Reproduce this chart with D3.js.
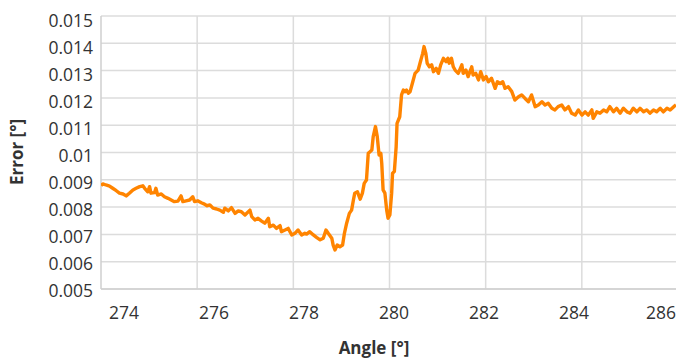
<!DOCTYPE html>
<html><head><meta charset="utf-8">
<script src="https://cdn.jsdelivr.net/npm/d3@7"></script>
<style>
html,body{margin:0;padding:0;background:#fff;}
svg{display:block;font-family:"Open Sans",sans-serif;}
</style></head>
<body>
<svg id="c" width="676" height="362"></svg>
<script>
const angle = [273.50,273.54,273.61,273.69,273.76,273.84,273.91,273.99,274.06,274.13,274.21,274.28,274.36,274.43,274.47,274.54,274.58,274.61,274.69,274.72,274.76,274.84,274.91,274.99,275.06,275.13,275.21,275.28,275.32,275.39,275.47,275.54,275.58,275.65,275.73,275.80,275.85,275.92,275.99,276.07,276.14,276.22,276.25,276.33,276.40,276.48,276.55,276.62,276.70,276.81,276.85,276.92,276.99,277.07,277.14,277.22,277.25,277.33,277.40,277.48,277.51,277.59,277.66,277.74,277.81,277.88,277.96,278.03,278.07,278.14,278.22,278.29,278.37,278.44,278.50,278.55,278.63,278.66,278.70,278.75,278.81,278.87,278.91,278.96,279.02,279.07,279.11,279.14,279.20,279.26,279.31,279.35,279.40,279.44,279.48,279.52,279.55,279.60,279.64,279.68,279.72,279.74,279.77,279.81,279.85,279.88,279.92,279.96,279.98,280.02,280.06,280.08,280.14,280.18,280.22,280.26,280.29,280.33,280.37,280.43,280.48,280.55,280.59,280.65,280.68,280.72,280.75,280.80,280.85,280.89,280.95,281.00,281.05,281.11,281.17,281.21,281.24,281.29,281.33,281.37,281.44,281.52,281.55,281.61,281.66,281.74,281.77,281.83,281.89,281.94,282.00,282.06,282.11,282.18,282.26,282.31,282.37,282.43,282.48,282.55,282.63,282.70,282.78,282.85,282.92,283.00,283.07,283.15,283.22,283.30,283.37,283.44,283.52,283.59,283.66,283.74,283.81,283.89,283.96,284.04,284.11,284.19,284.26,284.33,284.41,284.44,284.52,284.59,284.67,284.74,284.81,284.89,284.96,285.04,285.11,285.19,285.26,285.33,285.41,285.48,285.56,285.63,285.70,285.78,285.85,285.93,286.00,286.08,286.15,286.23,286.28];
const error = [0.00879,0.00885,0.00881,0.00877,0.00869,0.00860,0.00851,0.00848,0.00841,0.00851,0.00863,0.00869,0.00875,0.00878,0.00869,0.00856,0.00875,0.00851,0.00853,0.00869,0.00844,0.00848,0.00838,0.00832,0.00826,0.00820,0.00822,0.00841,0.00820,0.00823,0.00826,0.00838,0.00820,0.00823,0.00816,0.00811,0.00805,0.00808,0.00796,0.00793,0.00789,0.00781,0.00796,0.00786,0.00798,0.00777,0.00786,0.00783,0.00771,0.00789,0.00765,0.00753,0.00759,0.00749,0.00741,0.00759,0.00728,0.00734,0.00722,0.00732,0.00710,0.00716,0.00722,0.00698,0.00704,0.00716,0.00698,0.00704,0.00701,0.00710,0.00698,0.00689,0.00680,0.00686,0.00716,0.00704,0.00686,0.00661,0.00643,0.00661,0.00655,0.00661,0.00704,0.00741,0.00777,0.00789,0.00826,0.00851,0.00856,0.00829,0.00851,0.00887,0.00899,0.00997,0.01003,0.01009,0.01058,0.01095,0.01058,0.00991,0.00997,0.00960,0.00863,0.00851,0.00789,0.00759,0.00771,0.00851,0.00924,0.00930,0.01021,0.01107,0.01131,0.01211,0.01229,0.01223,0.01229,0.01217,0.01223,0.01259,0.01290,0.01302,0.01327,0.01363,0.01388,0.01363,0.01327,0.01314,0.01321,0.01296,0.01308,0.01290,0.01321,0.01345,0.01333,0.01345,0.01327,0.01345,0.01314,0.01302,0.01290,0.01321,0.01290,0.01302,0.01278,0.01314,0.01284,0.01290,0.01266,0.01296,0.01266,0.01278,0.01259,0.01272,0.01235,0.01259,0.01253,0.01259,0.01235,0.01241,0.01223,0.01192,0.01204,0.01211,0.01199,0.01186,0.01211,0.01168,0.01174,0.01186,0.01174,0.01180,0.01162,0.01156,0.01168,0.01174,0.01156,0.01168,0.01144,0.01137,0.01156,0.01137,0.01149,0.01137,0.01156,0.01125,0.01149,0.01144,0.01156,0.01149,0.01168,0.01149,0.01162,0.01144,0.01162,0.01149,0.01144,0.01162,0.01149,0.01162,0.01149,0.01156,0.01144,0.01156,0.01149,0.01162,0.01149,0.01162,0.01156,0.01168,0.01174];
const xTicks = [274,276,278,280,282,284,286];
const yTicks = [0.005,0.006,0.007,0.008,0.009,0.010,0.011,0.012,0.013,0.014,0.015];
const xTitle = "Angle [°]";
const yTitle = "Error [°]";

const svg = d3.select("#c");
const L = 101, R = 676, T = 16, B = 289;
const x = d3.scaleLinear().domain([273.5, 286.28]).range([L, R]);
const y = d3.scaleLinear().domain([0.005, 0.015]).range([B, T]);
const yLab = d3.scaleLinear().domain([0.005, 0.015]).range([B + 1.5, T + 5]);
const gx = d3.scaleLinear().domain([0, 6]).range([L, 678]);
const gridColor = "#dcdcdc";

svg.append("g").selectAll("line").data(yTicks).join("line")
  .attr("x1", L).attr("x2", R).attr("y1", d => y(d)).attr("y2", d => y(d))
  .attr("stroke", gridColor).attr("stroke-width", 1.5);
svg.append("g").selectAll("line").data(d3.range(1, 7)).join("line")
  .attr("x1", d => gx(d)).attr("x2", d => gx(d)).attr("y1", T).attr("y2", B)
  .attr("stroke", gridColor).attr("stroke-width", 1.5);
svg.append("line").attr("x1", L).attr("x2", L).attr("y1", T).attr("y2", B)
  .attr("stroke", "#cfcfcf").attr("stroke-width", 1.5);
svg.append("line").attr("x1", L).attr("x2", R).attr("y1", B).attr("y2", B)
  .attr("stroke", "#cfcfcf").attr("stroke-width", 1.5);

const yAxis = svg.append("g").attr("transform", `translate(${L},0)`)
  .call(d3.axisLeft(yLab).tickValues(yTicks).tickSize(0).tickPadding(8)
    .tickFormat(d => String(+d.toFixed(3))));
yAxis.select(".domain").remove();
yAxis.selectAll("text").attr("font-size", 17.5).attr("fill", "#333")
  .attr("font-family", "Open Sans");

const xAxis = svg.append("g").attr("transform", `translate(0,${B})`)
  .call(d3.axisBottom(x).tickValues(xTicks).tickSize(0).tickPadding(18));
xAxis.select(".domain").remove();
xAxis.selectAll("text").attr("font-size", 17.5).attr("fill", "#333")
  .attr("font-family", "Open Sans");
// keep the last label inside the canvas, right edge flush with it
xAxis.selectAll(".tick").filter(d => d === 286).select("text")
  .attr("text-anchor", "end").attr("x", R - x(286) - 0.5);

svg.append("text").attr("x", 374).attr("y", 354).attr("text-anchor", "middle")
  .attr("font-size", 17).attr("font-weight", "bold").attr("fill", "#333").text(xTitle);
svg.append("text").attr("transform", "translate(23,152) rotate(-90)")
  .attr("text-anchor", "middle").attr("font-size", 17).attr("font-weight", "bold")
  .attr("fill", "#333").text(yTitle);

svg.append("clipPath").attr("id", "clip").append("rect")
  .attr("x", L).attr("y", 0).attr("width", R - L).attr("height", B);
const data = angle.map((a, i) => [a, error[i]]);
svg.append("path").datum(data).attr("clip-path", "url(#clip)")
  .attr("fill", "none").attr("stroke", "#ff8400").attr("stroke-width", 3.4)
  .attr("stroke-linejoin", "round")
  .attr("d", d3.line().x(d => x(d[0])).y(d => y(d[1])));
</script>
</body></html>
